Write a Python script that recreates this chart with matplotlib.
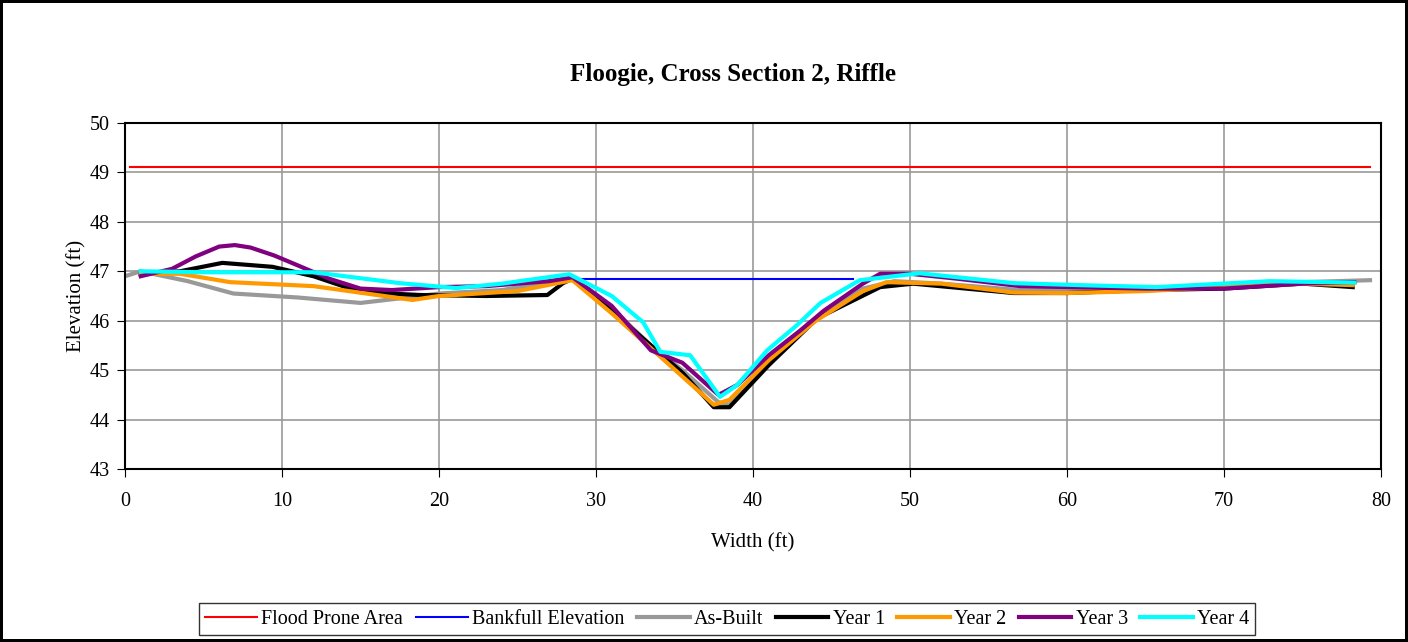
import matplotlib
matplotlib.use("Agg")
import matplotlib.pyplot as plt

plt.rcParams['font.family'] = ['Liberation Serif', 'DejaVu Serif']

flood_x = [0.3, 79.3]
flood_y = [49.1, 49.1]
bank_x = [29.0, 46.4]
bank_y = [46.85, 46.85]

asbuilt_x = [0.0, 1.0, 4.0, 6.9, 11.0, 15.0, 18.0, 20.0, 24.0, 28.4, 31.0, 33.5, 35.5, 37.8, 38.5, 41.0, 44.0, 47.0, 49.0, 52.0, 57.0, 65.0, 70.0, 75.0, 79.3]
asbuilt_y = [46.9, 47.0, 46.8, 46.55, 46.47, 46.36, 46.47, 46.55, 46.62, 46.85, 46.25, 45.5, 45.0, 44.35, 44.3, 45.15, 46.05, 46.65, 46.8, 46.75, 46.62, 46.62, 46.68, 46.78, 46.82]

year1_x = [1.0, 3.5, 6.2, 9.4, 12.0, 15.0, 18.8, 23.0, 26.9, 27.9, 28.5, 31.0, 33.5, 35.5, 37.5, 38.5, 41.0, 44.1, 48.1, 50.2, 56.6, 60.0, 65.0, 70.0, 75.0, 78.2]
year1_y = [46.95, 47.0, 47.17, 47.09, 46.9, 46.58, 46.52, 46.5, 46.52, 46.76, 46.85, 46.2, 45.5, 44.95, 44.25, 44.25, 45.1, 46.05, 46.68, 46.75, 46.56, 46.56, 46.62, 46.65, 46.75, 46.68]

year2_x = [1.0, 3.5, 6.7, 12.0, 18.3, 20.0, 25.0, 28.5, 31.0, 34.0, 37.5, 38.5, 41.0, 44.0, 47.0, 48.5, 52.0, 56.6, 60.0, 65.0, 70.0, 75.0, 78.2]
year2_y = [46.95, 46.95, 46.78, 46.7, 46.42, 46.5, 46.6, 46.82, 46.15, 45.3, 44.3, 44.4, 45.2, 46.0, 46.6, 46.78, 46.75, 46.57, 46.56, 46.6, 46.68, 46.75, 46.72]

year3_x = [1.0, 3.0, 4.5, 6.0, 7.0, 8.0, 9.5, 11.0, 13.0, 15.0, 17.0, 20.0, 23.0, 27.0, 28.5, 31.0, 33.5, 35.5, 37.8, 39.0, 41.0, 43.0, 44.5, 47.0, 48.1, 50.0, 53.0, 57.0, 65.0, 70.0, 75.0, 78.3]
year3_y = [46.9, 47.05, 47.3, 47.5, 47.53, 47.48, 47.32, 47.12, 46.85, 46.65, 46.62, 46.68, 46.7, 46.8, 46.88, 46.3, 45.4, 45.15, 44.5, 44.7, 45.3, 45.8, 46.2, 46.75, 46.95, 46.95, 46.85, 46.7, 46.65, 46.65, 46.75, 46.78]

year4_x = [1.0, 5.0, 12.0, 17.5, 21.1, 24.0, 28.3, 31.0, 33.0, 34.1, 36.0, 37.9, 39.0, 40.9, 42.8, 44.3, 46.8, 50.6, 56.6, 60.8, 65.7, 72.9, 78.3]
year4_y = [47.0, 46.98, 46.98, 46.76, 46.66, 46.75, 46.94, 46.5, 45.97, 45.37, 45.3, 44.46, 44.7, 45.4, 45.91, 46.36, 46.82, 46.96, 46.76, 46.72, 46.68, 46.8, 46.77]

x_ticks = [0, 10, 20, 30, 40, 50, 60, 70, 80]
y_ticks = [43, 44, 45, 46, 47, 48, 49, 50]

fig = plt.figure(figsize=(14.08, 6.42), dpi=100)
fig.patch.set_edgecolor('black')
fig.patch.set_linewidth(3)
ax = fig.add_axes([125/1408, 1-469/642, (1381-125)/1408, (469-123)/642])

ax.plot(flood_x, flood_y, color='#ff0000', lw=1.5, label='Flood Prone Area')
ax.plot(bank_x, bank_y, color='#0000ff', lw=1.5, label='Bankfull Elevation')
ax.plot(asbuilt_x, asbuilt_y, color='#999999', lw=3, label='As-Built')
ax.plot(year1_x, year1_y, color='#000000', lw=3, label='Year 1')
ax.plot(year2_x, year2_y, color='#ff9900', lw=3, label='Year 2')
ax.plot(year3_x, year3_y, color='#800080', lw=3, label='Year 3')
ax.plot(year4_x, year4_y, color='#00ffff', lw=3, label='Year 4')

ax.set_xlim(0, 80)
ax.set_ylim(43, 50)
ax.set_xticks(x_ticks)
ax.set_yticks(y_ticks)
ax.grid(True, color='#999999', lw=1.2)
ax.set_axisbelow(True)
for s in ax.spines.values():
    s.set_color('black')
    s.set_linewidth(1.5)
ax.tick_params(labelsize=14.5, length=6, direction='out', colors='black')
ax.tick_params(axis='x', pad=10.5)
ax.tick_params(axis='y', pad=5)
ax.set_xlabel('Width (ft)', fontsize=15, labelpad=16)
ax.set_ylabel('Elevation (ft)', fontsize=15, labelpad=2)
fig.text(733/1408, 1-75/642, 'Floogie, Cross Section 2, Riffle', ha='center', va='center',
         fontsize=18, fontweight='bold')

leg = fig.legend(loc='center', bbox_to_anchor=(727/1408, 1-619/642), ncol=7, fontsize=14.5,
                 frameon=True, fancybox=False, edgecolor='black', handlelength=2.6,
                 handletextpad=0.22, columnspacing=0.62, borderpad=0.3, borderaxespad=0)
leg.get_frame().set_linewidth(1.0)

fig.savefig('out.png', dpi=100, edgecolor=fig.get_edgecolor())
